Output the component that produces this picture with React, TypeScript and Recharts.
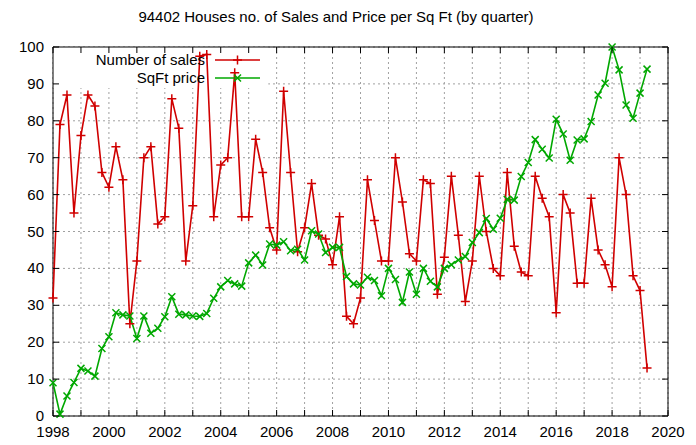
import React from 'react';
import { LineChart, Line, XAxis, YAxis, CartesianGrid, ReferenceArea } from 'recharts';

const TITLE = '94402 Houses no. of Sales and Price per Sq Ft (by quarter)';
const START_YEAR = 1998;
const SERIES_NAMES = ['Number of sales', 'SqFt price'];

// quarterly values, 1998 Q1 .. 2019 Q2
const SALES = [
  32, 79, 87, 55,
  76, 87, 84, 66,
  62, 73, 64, 25,
  42, 70, 73, 52,
  54, 86, 78, 42,
  57, 97.5, 98, 54,
  68, 70, 93, 54,
  54, 75, 66, 51,
  45, 88, 66, 44.5,
  51, 63, 49, 48,
  41, 54, 27, 25,
  32, 64, 53, 42,
  42, 70, 58, 44,
  42, 64, 63, 33,
  43, 65, 49, 31,
  42, 65, 50, 40,
  38, 66, 46, 39,
  38, 65, 59, 54,
  28, 60, 55, 36,
  36, 59, 45, 41,
  35, 70, 60, 38,
  34, 13,
];

const PRICE = [
  9, 0.5, 5.4, 9.1,
  12.9, 12.2, 10.8, 18.3,
  21.5, 28, 27.4, 27.1,
  21, 27.1, 22.4, 23.8,
  26.9, 32.3, 27.6, 27.4,
  27.1, 27, 27.8, 31.9,
  35, 36.7, 35.8, 35.2,
  41.5, 43.6, 40.9, 46.6,
  46.3, 47.2, 44.8, 45.2,
  42.3, 50.2, 49.3, 44.3,
  45.7, 45.7, 37.8, 35.8,
  35.5, 37.6, 36.7, 32.6,
  40, 37, 30.8, 39,
  33, 40, 36.5, 35,
  40, 41, 42.3, 43.2,
  47, 49.7, 53.5, 50.6,
  53.6, 58.7, 58.5, 64.9,
  68.7, 74.9, 72.3, 69.9,
  80.4, 76.4, 69.3, 74.8,
  75.1, 79.8, 87, 90.2,
  100, 93.8, 84.3, 80.7,
  87.5, 94,
];

const X_TICKS = [1998, 1999, 2000, 2001, 2002, 2003, 2004, 2005, 2006, 2007, 2008, 2009, 2010,
  2011, 2012, 2013, 2014, 2015, 2016, 2017, 2018, 2019, 2020];
const X_LABELS = ['1998', '2000', '2002', '2004', '2006', '2008', '2010', '2012', '2014', '2016', '2018', '2020'];
const Y_TICKS = [0, 10, 20, 30, 40, 50, 60, 70, 80, 90, 100];

const data = SALES.map((s, i) => ({ t: START_YEAR + i / 4, sales: s, price: PRICE[i] }));

const W = 696;
const H = 445;
const M_TOP = 47;
const M_RIGHT = 28;
const Y_W = 53;
const X_H = 29;
const PLOT_TOP = M_TOP;
const PLOT_RIGHT = W - M_RIGHT;
const TICK = 6;

const RED = '#d00000';
const GREEN = '#00a800';
const FONT = '"Liberation Sans", Arial, sans-serif';
const FS = 15;

const XTick = (props: any) => {
  const { x, y, payload } = props;
  const v = payload.value;
  const label = X_LABELS.includes(String(v)) ? String(v) : '';
  return (
    <g>
      <line x1={x} x2={x} y1={y} y2={y - TICK} stroke="#000" strokeWidth={1} />
      <line x1={x} x2={x} y1={PLOT_TOP} y2={PLOT_TOP + TICK} stroke="#000" strokeWidth={1} />
      {label && (
        <text x={x} y={y + 21} textAnchor="middle" fontFamily={FONT} fontSize={FS} fill="#000">
          {label}
        </text>
      )}
    </g>
  );
};

const YTick = (props: any) => {
  const { x, y, payload } = props;
  return (
    <g>
      <line x1={x} x2={x + TICK} y1={y} y2={y} stroke="#000" strokeWidth={1} />
      <line x1={PLOT_RIGHT} x2={PLOT_RIGHT - TICK} y1={y} y2={y} stroke="#000" strokeWidth={1} />
      <text x={x - 9} y={y + 5} textAnchor="end" fontFamily={FONT} fontSize={FS} fill="#000">
        {payload.value}
      </text>
    </g>
  );
};

const PlusDot = (props: any) => {
  const { cx, cy, index } = props;
  if (cx == null || cy == null) return <g key={`p${index}`} />;
  return (
    <path key={`p${index}`} d={`M${cx - 4.5},${cy}h9M${cx},${cy - 4.5}v9`} stroke={RED} strokeWidth={1.5} fill="none" />
  );
};

const CrossDot = (props: any) => {
  const { cx, cy, index } = props;
  if (cx == null || cy == null) return <g key={`c${index}`} />;
  return (
    <path key={`c${index}`} d={`M${cx - 3.5},${cy - 3.5}l7,7M${cx - 3.5},${cy + 3.5}l7,-7`} stroke={GREEN} strokeWidth={1.5} fill="none" />
  );
};

const LegendBox = () => {
  const rows = [
    { name: SERIES_NAMES[0], color: RED, kind: 'plus' },
    { name: SERIES_NAMES[1], color: GREEN, kind: 'cross' },
  ];
  return (
    <div
      style={{
        position: 'absolute', left: 60, top: 51, fontFamily: FONT, fontSize: FS, color: '#000', zIndex: 3,
      }}
    >
      {rows.map((r) => (
        <div key={r.name} style={{ display: 'flex', alignItems: 'center', height: 18 }}>
          <span style={{ width: 145, textAlign: 'right', lineHeight: '18px', whiteSpace: 'nowrap' }}>{r.name}</span>
          <svg width={55} height={18} style={{ marginLeft: 10 }}>
            <line x1={0} x2={45} y1={9} y2={9} stroke={r.color} strokeWidth={1.6} />
            {r.kind === 'plus' ? (
              <path d="M18,9h9M22.5,4.5v9" stroke={r.color} strokeWidth={1.5} fill="none" />
            ) : (
              <path d="M19,5.5l7,7M19,12.5l7,-7" stroke={r.color} strokeWidth={1.5} fill="none" />
            )}
          </svg>
        </div>
      ))}
    </div>
  );
};

export default function App() {
  return (
    <div style={{ position: 'absolute', left: 0, top: 0, width: W, height: H, background: '#fff' }}>
      <div
        style={{
          position: 'absolute', left: 0, top: 8, width: 672, textAlign: 'center',
          fontFamily: FONT, fontSize: FS, color: '#000', lineHeight: '18px', zIndex: 2,
        }}
      >
        {TITLE}
      </div>
      <LineChart width={W} height={H} data={data} margin={{ top: M_TOP, right: M_RIGHT, left: 0, bottom: 0 }}>
        <CartesianGrid stroke="#a0a0a0" strokeDasharray="2 3" strokeWidth={1} />
        <ReferenceArea x1={1998} x2={2005.7} y1={88.9} y2={100} fill="#fff" fillOpacity={1} stroke="none" zIndex={-90} />
        <ReferenceArea x1={1998} x2={2020} y1={0} y2={100} fill="none" stroke="#000" strokeWidth={1} zIndex={-80} />
        <XAxis
          dataKey="t"
          type="number"
          domain={[1998, 2020]}
          ticks={X_TICKS}
          interval={0}
          height={X_H}
          tickSize={0}
          tickMargin={0}
          axisLine={false}
          tickLine={false}
          tick={<XTick />}
        />
        <YAxis
          type="number"
          domain={[0, 100]}
          ticks={Y_TICKS}
          interval={0}
          width={Y_W}
          tickSize={0}
          tickMargin={0}
          axisLine={false}
          tickLine={false}
          tick={<YTick />}
        />
        <Line
          type="linear"
          dataKey="sales"
          name={SERIES_NAMES[0]}
          stroke={RED}
          strokeWidth={1.6}
          dot={PlusDot}
          activeDot={false}
          isAnimationActive={false}
        />
        <Line
          type="linear"
          dataKey="price"
          name={SERIES_NAMES[1]}
          stroke={GREEN}
          strokeWidth={1.6}
          dot={CrossDot}
          activeDot={false}
          isAnimationActive={false}
        />
      </LineChart>
      <LegendBox />
    </div>
  );
}
